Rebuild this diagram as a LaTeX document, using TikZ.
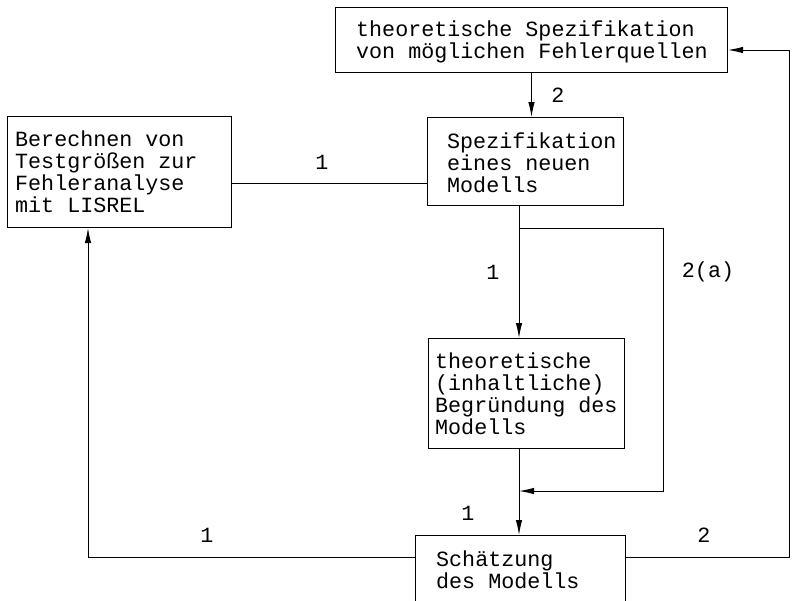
\documentclass[tikz,border=0pt]{standalone}
\usepackage{fontspec}
\setmonofont{Liberation Mono}
\usetikzlibrary{arrows.meta}
\tikzset{
  box/.style={draw, line width=1pt, inner sep=0pt, anchor=north west},
  txt/.style={anchor=west, align=left, inner sep=0pt,
    font=\ttfamily\fontsize{21.7pt}{22pt}\selectfont},
  lbl/.style={inner sep=0pt, font=\ttfamily\fontsize{21.7pt}{22pt}\selectfont},
  conn/.style={line width=1pt},
  arr/.style={conn, -{Latex[length=15pt,width=6.5pt]}}
}
\begin{document}
\begin{tikzpicture}[x=1pt,y=-1pt]
\useasboundingbox (0,0) rectangle (795,600);
\clip (0,0) rectangle (795,600);
\fill[white] (0,0) rectangle (795,600);

% boxes
\node[box, minimum width=392pt, minimum height=65pt] (T) at (335,7) {};
\node[box, minimum width=224pt, minimum height=111pt] (L) at (7,116) {};
\node[box, minimum width=196pt, minimum height=88pt] (S) at (427,117) {};
\node[box, minimum width=196pt, minimum height=110pt] (M) at (428,338) {};
\node[box, minimum width=210pt, minimum height=69pt] (E) at (415,535) {};

% box texts
\node[txt] (Tt) at ([xshift=21pt,yshift=-2pt]T.west) {theoretische Spezifikation\\von möglichen Fehlerquellen};
\node[txt] (Lt) at ([xshift=8pt]L.west) {Berechnen von\\Testgrößen zur\\Fehleranalyse\\mit LISREL};
\node[txt] (St) at ([xshift=20pt,yshift=-1pt]S.west) {Spezifikation\\eines neuen\\Modells};
\node[txt] (Mt) at ([xshift=7pt]M.west) {theoretische\\(inhaltliche)\\Begründung des\\Modells};
\node[txt] (Et) at ([xshift=21pt]E.west) {Schätzung\\des Modells};

% junction points of the connectors
\coordinate (jLS) at (427,183);
\coordinate (mg) at (519,491);
\coordinate (br1) at (519,228);
\coordinate (br2) at (663,228);
\coordinate (br3) at (663,491);
\coordinate (eL) at (88,557);
\coordinate (eR) at (789,557);
\coordinate (tR) at (789,50);

% connectors
\draw[arr] (T.south) -- (T.south |- S.north);
\draw[conn] (L.east |- jLS) -- (jLS);
\draw[arr] (S.south -| mg) -- (M.north -| mg);
\draw[arr] (br1) -- (br2) -- (br3) -- (mg);
\draw[arr] (M.south -| mg) -- (E.north -| mg);
\draw[arr] (E.west |- eL) -- (eL) -- (L.south -| eL);
\draw[arr] (E.east |- eR) -- (eR) -- (tR) -- (T.east |- tR);

% connector labels
\node[lbl] (l1) at (558,95) {2};
\node[lbl] (l2) at (322,162) {1};
\node[lbl] (l3) at (493,272) {1};
\node[lbl] (l4) at (708,272) {2(a)};
\node[lbl] (l5) at (468,513) {1};
\node[lbl] (l6) at (207,535) {1};
\node[lbl] (l7) at (704,535) {2};
\end{tikzpicture}
\end{document}
